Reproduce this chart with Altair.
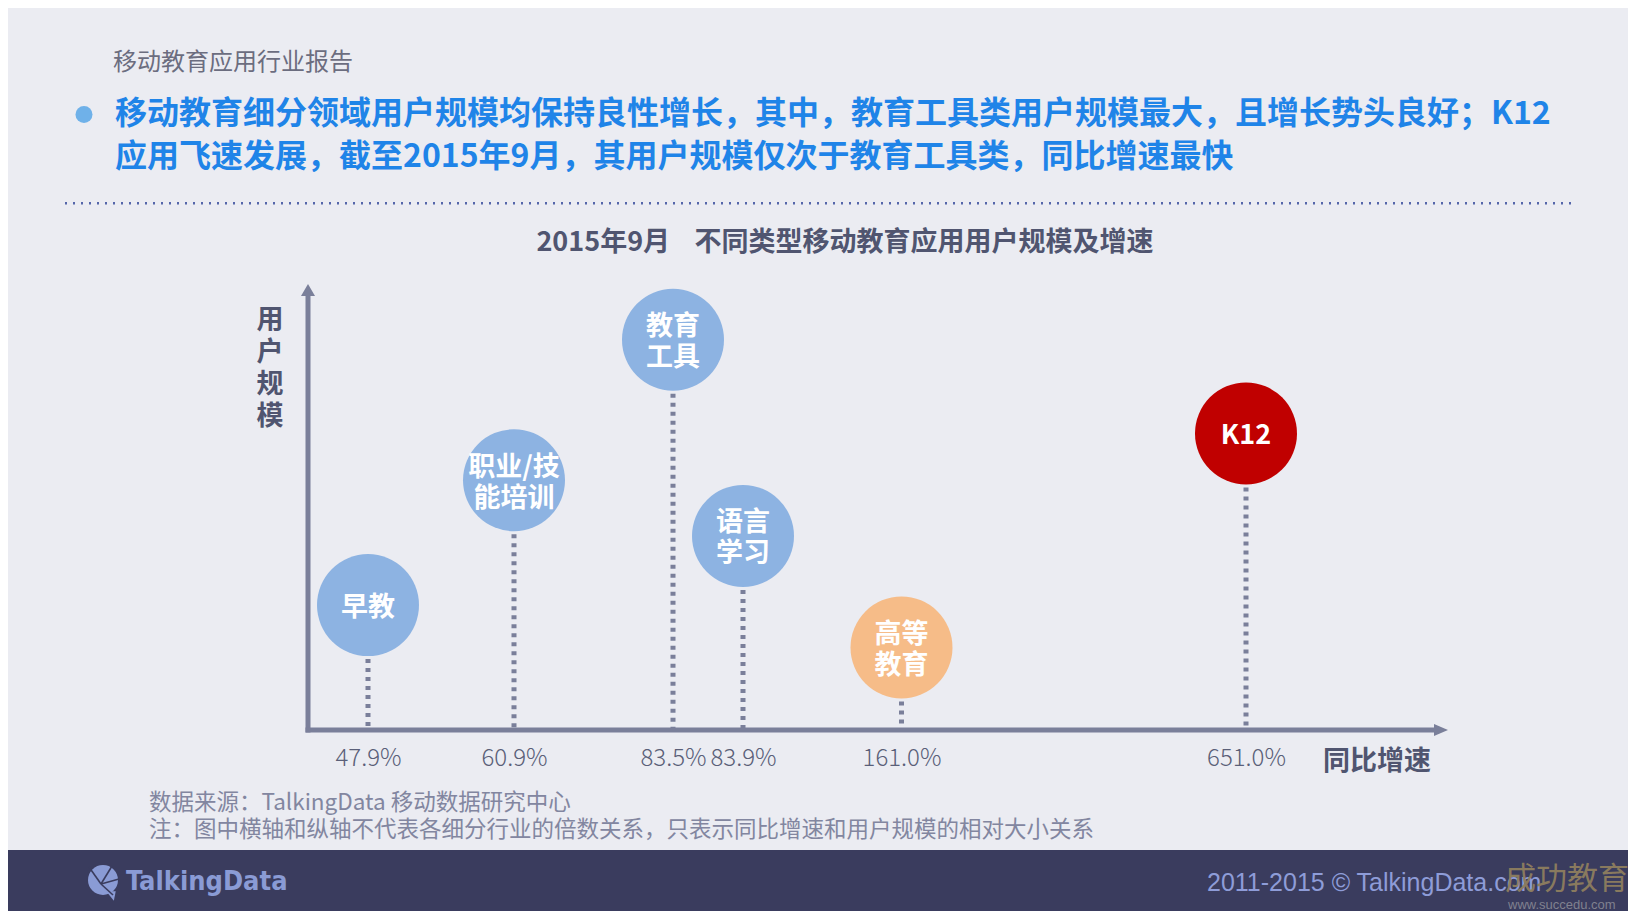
import altair as alt
import pandas as pd

# ---------------- data ----------------
categories = ["早教", "职业/技能培训", "教育工具", "语言学习", "高等教育", "K12"]
bubble_text = ["早教", "职业/技\n能培训", "教育\n工具", "语言\n学习", "高等\n教育", "K12"]
growth = [47.9, 60.9, 83.5, 83.9, 161.0, 651.0]          # 同比增速 (%)
user_scale = [2.8, 5.6, 8.75, 4.35, 1.85, 6.65]          # 相对用户规模 (relative)
bubble_colors = ["#8DB3E2", "#8DB3E2", "#8DB3E2", "#8DB3E2", "#F6BC88", "#C00000"]

header_tag = "移动教育应用行业报告"
headline_1 = "移动教育细分领域用户规模均保持良性增长，其中，教育工具类用户规模最大，且增长势头良好；K12"
headline_2 = "应用飞速发展，截至2015年9月，其用户规模仅次于教育工具类，同比增速最快"
chart_title = "2015年9月\u00a0\u00a0\u00a0\u00a0不同类型移动教育应用用户规模及增速"
y_title = "用\n户\n规\n模"
x_title = "同比增速"
source_text = "数据来源：TalkingData 移动数据研究中心"
note_text = "注：图中横轴和纵轴不代表各细分行业的倍数关系，只表示同比增速和用户规模的相对大小关系"
brand_text = "TalkingData"
copyright_text = "2011-2015 © TalkingData.com"
watermark_text = "成功教育"
watermark_url = "www.succedu.com"

df = pd.DataFrame({
    "category": categories,
    "label": bubble_text,
    "growth": growth,
    "scale": user_scale,
})
df["lines"] = df["label"].str.count("\n") + 1

CJK = "Noto Sans CJK SC"
AXIS_COLOR = "#7A7F9A"
DARK = "#505570"
W, H = 1140, 446

# x positions are not proportional in the original (piecewise scale)
x_scale = alt.Scale(domain=[0] + growth + [800],
                    range=[0, 60, 206, 365, 435, 593.5, 938, W],
                    nice=False, zero=False)
x_axis = alt.Axis(values=growth, labelExpr="format(datum.value, '.1f') + '%'",
                  domain=False, ticks=False, tickSize=0, grid=False,
                  labelFont=CJK, labelFontSize=24, labelFontWeight=300,
                  labelColor="#5A5F78", labelPadding=16, labelOverlap=False,
                  labelBound=False, labelFlush=False, title=None)
x_enc = alt.X("growth:Q", scale=x_scale, axis=x_axis)
y_enc = alt.Y("scale:Q", scale=alt.Scale(domain=[0, 10], nice=False, zero=False), axis=None)

base = alt.Chart(df)

one = pd.DataFrame({"t": [""]})


def txt(s, x, y, **kw):
    return alt.Chart(pd.DataFrame({"t": [s]})).mark_text(**kw).encode(
        x=alt.value(x), y=alt.value(y), text="t:N")


# ---------------- decorations ----------------
footer = alt.Chart(one).mark_rect(color="#3A3C5E").encode(
    x=alt.value(-308), x2=alt.value(1328), y=alt.value(566), y2=alt.value(640))

separator = alt.Chart(one).mark_rule(color="#5566AA", strokeWidth=2.5, strokeDash=[2, 6]).encode(
    x=alt.value(-243), x2=alt.value(1268), y=alt.value(-80.7))

bullet = alt.Chart(one).mark_circle(size=289, color="#6FB1E9", opacity=1).encode(
    x=alt.value(-224), y=alt.value(-169.5))

y_line = alt.Chart(one).mark_rule(color=AXIS_COLOR, strokeWidth=5).encode(
    x=alt.value(0), y=alt.value(10), y2=alt.value(448.5))
x_line = alt.Chart(one).mark_rule(color=AXIS_COLOR, strokeWidth=5).encode(
    x=alt.value(-2.5), x2=alt.value(W - 12), y=alt.value(H))
arrow_up = alt.Chart(one).mark_point(shape="M-1,0.857L0,-0.857L1,0.857Z", filled=True,
                                     size=196, color=AXIS_COLOR, opacity=1).encode(
    x=alt.value(0), y=alt.value(6))
arrow_right = alt.Chart(one).mark_point(shape="M-1,-0.857L1,0L-1,0.857Z", filled=True,
                                        size=196, color=AXIS_COLOR, opacity=1).encode(
    x=alt.value(W - 7), y=alt.value(H))

# logo icon (pie-like bubble)
logo_circle = alt.Chart(one).mark_circle(size=900, color="#8A9BD5", opacity=1).encode(
    x=alt.value(-205), y=alt.value(596))
logo_tail = alt.Chart(one).mark_point(shape="M-1,-1L1,-1L0.6,1Z", filled=True, size=90,
                                      color="#8A9BD5", opacity=1).encode(
    x=alt.value(-197), y=alt.value(612))
logo_lines = [
    alt.Chart(one).mark_rule(color="#3A3C5E", strokeWidth=1.6).encode(
        x=alt.value(-207), y=alt.value(600), x2=alt.value(ex), y2=alt.value(ey))
    for ex, ey in [(-219, 583), (-196, 582), (-189, 595), (-195, 611)]
]

# ---------------- chart marks ----------------
stems = base.mark_rule(strokeDash=[4, 5], strokeWidth=5, color=AXIS_COLOR).encode(
    x=x_enc, y=y_enc, y2=alt.datum(0))

bubbles = base.mark_circle(size=10404, opacity=1).encode(
    x=x_enc, y=y_enc,
    color=alt.Color("category:N", scale=alt.Scale(domain=categories, range=bubble_colors), legend=None))

label_style = dict(font=CJK, fontSize=27, fontWeight="bold", color="white",
                   lineBreak="\n", lineHeight=31, baseline="middle")
labels_1 = base.transform_filter("datum.lines == 1").mark_text(dy=3, **label_style).encode(
    x=x_enc, y=y_enc, text="label:N")
labels_2 = base.transform_filter("datum.lines == 2").mark_text(dy=-12.5, **label_style).encode(
    x=x_enc, y=y_enc, text="label:N")

texts = [
    txt(header_tag, -195, -221.5, font=CJK, fontSize=24, color="#6B6D7F", align="left", baseline="middle"),
    txt(headline_1, -193, -170, font=CJK, fontSize=32, fontWeight="bold", color="#1F84E8",
        align="left", baseline="middle"),
    txt(headline_2, -193, -127, font=CJK, fontSize=32, fontWeight="bold", color="#1F84E8",
        align="left", baseline="middle"),
    txt(chart_title, 537, -41, font=CJK, fontSize=27, fontWeight="bold", color=DARK,
        align="center", baseline="middle"),
    txt(y_title, -38, 37, font=CJK, fontSize=27, fontWeight="bold", color=DARK,
        align="center", baseline="middle", lineBreak="\n", lineHeight=32),
    txt(x_title, 1069, 478, font=CJK, fontSize=27, fontWeight="bold", color=DARK,
        align="center", baseline="middle"),
    txt(source_text, -159, 519, font=CJK, fontSize=22.5, color="#8286A0", align="left", baseline="middle"),
    txt(note_text, -159, 546, font=CJK, fontSize=22.5, color="#8286A0", align="left", baseline="middle"),
    txt(brand_text, -182, 598, font="DejaVu Sans Condensed, Roboto, sans-serif", fontSize=27,
        fontWeight="bold", color="#8A9BD5", align="left", baseline="middle"),
    txt(copyright_text, 899, 599, font="Liberation Sans", fontSize=25, color="#8E9CD8",
        align="left", baseline="middle"),
    txt(watermark_text, 1197, 596, font=CJK, fontSize=31, color="#8E7E5E", opacity=0.95,
        align="left", baseline="middle"),
    txt(watermark_url, 1200, 621, font="Liberation Sans", fontSize=13, color="#80818F",
        align="left", baseline="middle"),
]

chart = alt.layer(
    footer, separator, bullet, y_line, x_line, arrow_up, arrow_right,
    logo_circle, logo_tail, *logo_lines,
    stems, bubbles, labels_1, labels_2, *texts
).properties(
    width=W, height=H,
    padding={"left": 300, "top": 276, "right": 180, "bottom": 181},
    autosize=alt.AutoSizeParams(type="none"),
    background="#EBECF2",
).configure_view(stroke=None)

chart.save("out.html", embed_options={"renderer": "svg", "actions": False})
